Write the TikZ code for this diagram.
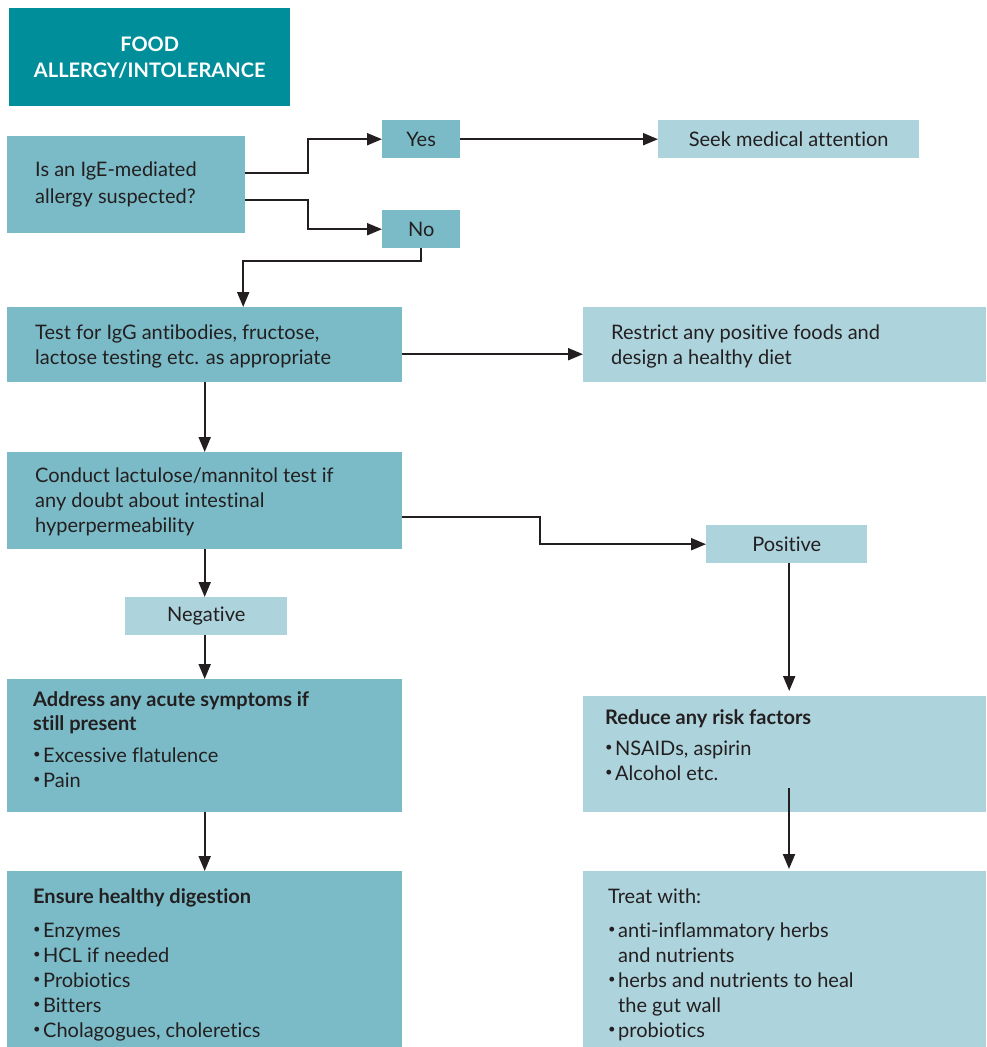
\documentclass[tikz,border=0pt]{standalone}
\usepackage{fontspec}
\setmainfont{Lato}[Ligatures=NoCommon]
\usetikzlibrary{arrows.meta,calc}
\definecolor{titleteal}{HTML}{008E9B}
\definecolor{midteal}{HTML}{7ABBC7}
\definecolor{lightteal}{HTML}{ADD3DC}
\definecolor{ink}{HTML}{231F20}
\tikzset{
  box/.style={rectangle, draw=none, inner sep=0pt, anchor=north west, text=ink,
    font=\fontsize{20}{25}\selectfont},
  darkbox/.style={box, fill=midteal},
  lightbox/.style={box, fill=lightteal},
  body/.style={anchor=base west, align=left, inner sep=0pt, text=ink,
    font=\fontsize{20}{25}\selectfont},
  arr/.style={draw=ink, line width=2pt, -{Triangle[length=15pt,width=12pt]}},
}
% small list bullet and the matching hanging indent
\newcommand{\bul}{\makebox[10pt][l]{\raisebox{0.3ex}{\scalebox{0.65}{\textbullet}}}}
\newcommand{\bulind}{\hspace*{10pt}}
\begin{document}
\begin{tikzpicture}[x=1pt,y=-1pt]
\useasboundingbox (0,0) rectangle (986,1047);

% title
\node[box, fill=titleteal, minimum width=281pt, minimum height=98pt, text=white,
  align=center, font=\bfseries\fontsize{20}{26}\selectfont] (title) at (9,8)
  {FOOD\\ALLERGY/INTOLERANCE};

% first question and its answers (text nodes sit on the baseline of their last line)
\node[darkbox, minimum width=238pt, minimum height=97pt] (q) at (7,136) {};
\node[body, font=\fontsize{20}{26.5}\selectfont] (qt) at (35,203) {Is an IgE-mediated\\allergy suspected?};
\node[darkbox, minimum width=78pt, minimum height=38pt] (yes) at (382,120) {Yes};
\node[lightbox, minimum width=261pt, minimum height=38pt] (seek) at (658,120) {Seek medical attention};
\node[darkbox, minimum width=78pt, minimum height=38pt] (no) at (382,210) {No};

% testing
\node[darkbox, minimum width=395pt, minimum height=75pt] (test) at (7,307) {};
\node[body] (testt) at (35,364) {Test for IgG antibodies, fructose,\\lactose testing etc. as appropriate};
\node[lightbox, minimum width=403pt, minimum height=75pt] (restrict) at (583,307) {};
\node[body] (restrictt) at (611,364) {Restrict any positive foods and\\design a healthy diet};

\node[darkbox, minimum width=395pt, minimum height=97pt] (conduct) at (7,452) {};
\node[body] (conductt) at (35,532) {Conduct lactulose/mannitol test if\\any doubt about intestinal\\hyperpermeability};

\node[lightbox, minimum width=161pt, minimum height=38pt] (pos) at (706,525) {Positive};
\node[lightbox, minimum width=162pt, minimum height=38pt] (neg) at (125,597) {Negative};

% left branch
\node[darkbox, minimum width=395pt, minimum height=133pt] (address) at (7,679) {};
\node[body] (addresst) at (33,787) {\textbf{Address any acute symptoms if}\\[-1pt]\textbf{still present}\\[7pt]
  \bul Excessive flatulence\\\bul Pain};
\node[darkbox, minimum width=395pt, minimum height=176pt] (ensure) at (7,871) {};
\node[body] (ensuret) at (33,1037) {\textbf{Ensure healthy digestion}\\[9pt]
  \bul Enzymes\\\bul HCL if needed\\\bul Probiotics\\\bul Bitters\\\bul Cholagogues, choleretics};

% right branch
\node[lightbox, minimum width=403pt, minimum height=116pt] (reduce) at (583,696) {};
\node[body] (reducet) at (605,780) {\textbf{Reduce any risk factors}\\[6pt]
  \bul NSAIDs, aspirin\\\bul Alcohol etc.};
\node[lightbox, minimum width=403pt, minimum height=176pt] (treat) at (583,871) {};
\node[body] (treatt) at (608,1037) {Treat with:\\[9pt]
  \bul anti-inflammatory herbs\\\bulind and nutrients\\\bul herbs and nutrients to heal\\\bulind the gut wall\\\bul probiotics};

% connectors
\coordinate (qyes) at ($(q.north east)+(0,37)$);
\coordinate (qno) at ($(q.north east)+(0,64)$);
\draw[arr] (qyes) -- ++(63,0) |- (yes.west);
\draw[arr] (qno) -- ++(63,0) |- (no.west);
\draw[arr] (yes.east) -- (seek.west);
\draw[arr] (no.south) -- ++(0,13) -| ([xshift=38.5pt]test.north);
\coordinate (tr) at ([yshift=-9.5pt]test.east);
\draw[arr] (tr) -- (tr -| restrict.west);
\draw[arr] (test.south) -- (conduct.north);
\coordinate (cp) at ([yshift=-16.5pt]conduct.east);
\draw[arr] (cp) -- ++(138,0) |- (pos.west);
\draw[arr] (conduct.south) -- (conduct.south |- neg.north);
\draw[arr] (conduct.south |- neg.south) -- (address.north);
\draw[arr] (address.south) -- (ensure.north);
\coordinate (pd) at ([xshift=2.5pt]pos.south);
\draw[arr, shorten >=5pt] (pd) -- (pd |- reduce.north);
\coordinate (rt) at (789,788);
\draw[arr, shorten >=2pt] (rt) -- (rt |- treat.north);
\end{tikzpicture}
\end{document}
